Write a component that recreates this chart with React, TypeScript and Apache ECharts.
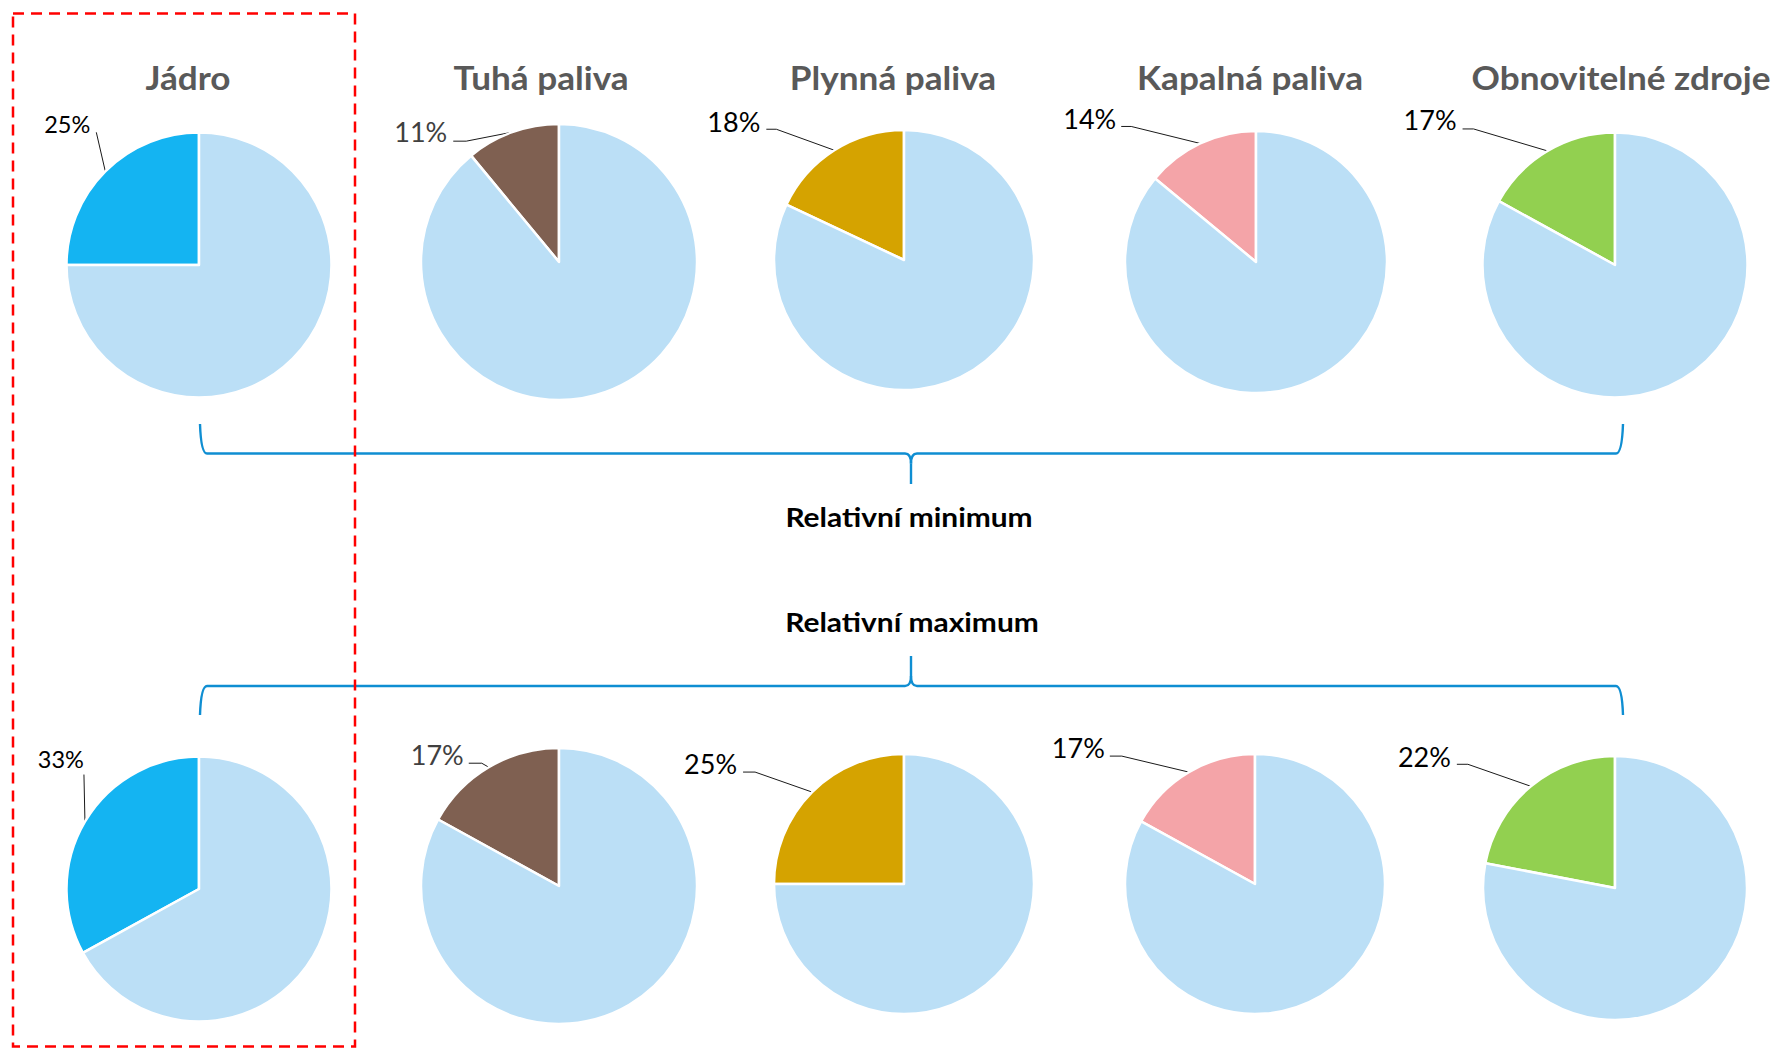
import React, { useEffect, useRef } from 'react';
import * as echarts from 'echarts';

// Energy sources and their relative shares (percent) in the two scenarios
const sources = ['Jádro', 'Tuhá paliva', 'Plynná paliva', 'Kapalná paliva', 'Obnovitelné zdroje'];
const minimumShares = [25, 11, 18, 14, 17];
const maximumShares = [33, 17, 25, 17, 22];
const rowTitles = ['Relativní minimum', 'Relativní maximum'];
const restName = 'Ostatní';

// Colours
const sourceColors = ['#14B4F2', '#7F6051', '#D5A300', '#F4A4A8', '#92D050'];
const restColor = '#BBDFF6';
const labelColors = ['#000000', '#404040', '#000000', '#000000', '#000000'];
const labelFontSizes = [23.5, 27, 27, 27, 27];
const titleColor = '#595959';
const braceColor = '#0F8ED2';

// Pie placement (px) for the two rows
const pieCenterX = [
  [199, 559, 904, 1256, 1615],
  [199, 559, 904, 1255, 1615],
];
const pieCenterY = [
  [265, 262, 260, 262, 265],
  [889, 886, 884, 884, 888],
];
const pieRadius = [
  [132.5, 138, 130, 131, 132.5],
  [132.5, 138, 130, 130, 132],
];

// Label placement relative to the slice anchor:
// [labelRightX, labelMidY, elbowX, elbowY, endX, endY]
const labelOffsets = [
  [
    [-15, -47.5, -9, -39, -9, -39],
    [-65, -1, -46, 9, -59, 9],
    [-74, -28.5, -58, -21, -68, -21],
    [-84, -25, -69, -17, -79, -17],
    [-91, -31, -74, -22, -85, -22],
  ],
  [
    [-1, -62.5, -1, -47, -1, -47],
    [-25, -13, -7, -4, -20, -4],
    [-75, -29, -57, -20, -69, -20],
    [-84, -25, -67, -16, -79, -16],
    [-80, -30, -63, -22, -74, -22],
  ],
];

const titleX = [188, 541, 893, 1250, 1621];
const titleY = 76.5;
const rowTitleX = [909, 912];
const rowTitleY = [516.5, 622];

function buildRow(row: number, shares: number[]) {
  return sources.map((name, i) => {
    const off = labelOffsets[row][i];
    return {
      type: 'pie',
      name: `${name} – ${rowTitles[row]}`,
      center: [pieCenterX[row][i], pieCenterY[row][i]],
      radius: pieRadius[row][i],
      startAngle: 90,
      clockwise: false,
      silent: true,
      avoidLabelOverlap: false,
      emphasis: { disabled: true },
      itemStyle: { borderColor: '#ffffff', borderWidth: 2.5 },
      label: {
        show: true,
        position: 'outside',
        formatter: '{c}%',
        fontFamily: 'Lato',
        fontSize: labelFontSizes[i],
        color: labelColors[i],
      },
      labelLine: { show: true, lineStyle: { color: '#1a1a1a', width: 1 } },
      labelLayout: (p: any) => {
        if (p.dataIndex !== 0 || !p.labelLinePoints) return {};
        const [ax, ay] = p.labelLinePoints[0];
        const [lx, ly, ex, ey, tx, ty] = off;
        return {
          x: ax + lx,
          y: ay + ly,
          align: 'right',
          verticalAlign: 'middle',
          labelLinePoints: [
            [ax, ay],
            [ax + ex, ay + ey],
            [ax + tx, ay + ty],
          ],
        };
      },
      data: [
        { name, value: shares[i], itemStyle: { color: sourceColors[i] } },
        {
          name: restName,
          value: 100 - shares[i],
          itemStyle: { color: restColor },
          label: { show: false },
          labelLine: { show: false },
        },
      ],
    };
  });
}

// Curly brace: ends at x0/x1, tip at xm; tip points from yLine towards yTip
function brace(x0: number, x1: number, xm: number, yLine: number, yEnd: number, yTip: number) {
  const d = Math.sign(yTip - yLine);
  const style = { stroke: braceColor, lineWidth: 2.4, fill: 'none' };
  const parts: any[] = [
    { type: 'bezierCurve', shape: { x1: x0, y1: yEnd, cpx1: x0 + 1, cpy1: yLine, x2: x0 + 7, y2: yLine }, style },
    { type: 'line', shape: { x1: x0 + 7, y1: yLine, x2: xm - 6, y2: yLine }, style },
    { type: 'bezierCurve', shape: { x1: xm - 6, y1: yLine, cpx1: xm, cpy1: yLine, x2: xm, y2: yLine + d * 10 }, style },
    { type: 'line', shape: { x1: xm, y1: yLine + d * 10, x2: xm, y2: yTip }, style },
    { type: 'bezierCurve', shape: { x1: xm + 6, y1: yLine, cpx1: xm, cpy1: yLine, x2: xm, y2: yLine + d * 10 }, style },
    { type: 'line', shape: { x1: xm + 6, y1: yLine, x2: x1 - 7, y2: yLine }, style },
    { type: 'bezierCurve', shape: { x1: x1, y1: yEnd, cpx1: x1 - 1, cpy1: yLine, x2: x1 - 7, y2: yLine }, style },
  ];
  return { type: 'group', z: 5, children: parts };
}

export default function App() {
  const ref = useRef<HTMLDivElement>(null);

  useEffect(() => {
    document.body.style.margin = '0';
    if (!ref.current) return;
    const chart = echarts.init(ref.current, null, { renderer: 'svg' });

    const titles = sources.map((s, i) => ({
      type: 'text',
      x: titleX[i],
      y: titleY,
      scaleX: 1.065,
      z: 5,
      style: {
        text: s,
        fill: titleColor,
        font: 'bold 33px Lato',
        align: 'center',
        verticalAlign: 'middle',
        textAlign: 'center',
        textVerticalAlign: 'middle',
      },
    }));

    const rowLabels = rowTitles.map((t, i) => ({
      type: 'text',
      x: rowTitleX[i],
      y: rowTitleY[i],
      scaleX: 1.15,
      z: 5,
      style: {
        text: t,
        fill: '#000000',
        font: 'bold 26px Lato',
        align: 'center',
        verticalAlign: 'middle',
        textAlign: 'center',
        textVerticalAlign: 'middle',
      },
    }));

    chart.setOption({
      animation: false,
      backgroundColor: '#ffffff',
      tooltip: { show: false },
      series: [...buildRow(0, minimumShares), ...buildRow(1, maximumShares)],
      graphic: {
        elements: [
          ...titles,
          ...rowLabels,
          brace(200, 1623, 911, 453.5, 424, 484),
          brace(200, 1623, 911, 686, 715, 656),
          {
            type: 'rect',
            z: 20,
            shape: { x: 13, y: 13.5, width: 342, height: 1033 },
            style: { fill: 'none', stroke: '#FF0000', lineWidth: 2.5, lineDash: [11, 7] },
          },
        ],
      },
    });

    return () => chart.dispose();
  }, []);

  return <div ref={ref} style={{ width: 1772, height: 1048 }} />;
}
